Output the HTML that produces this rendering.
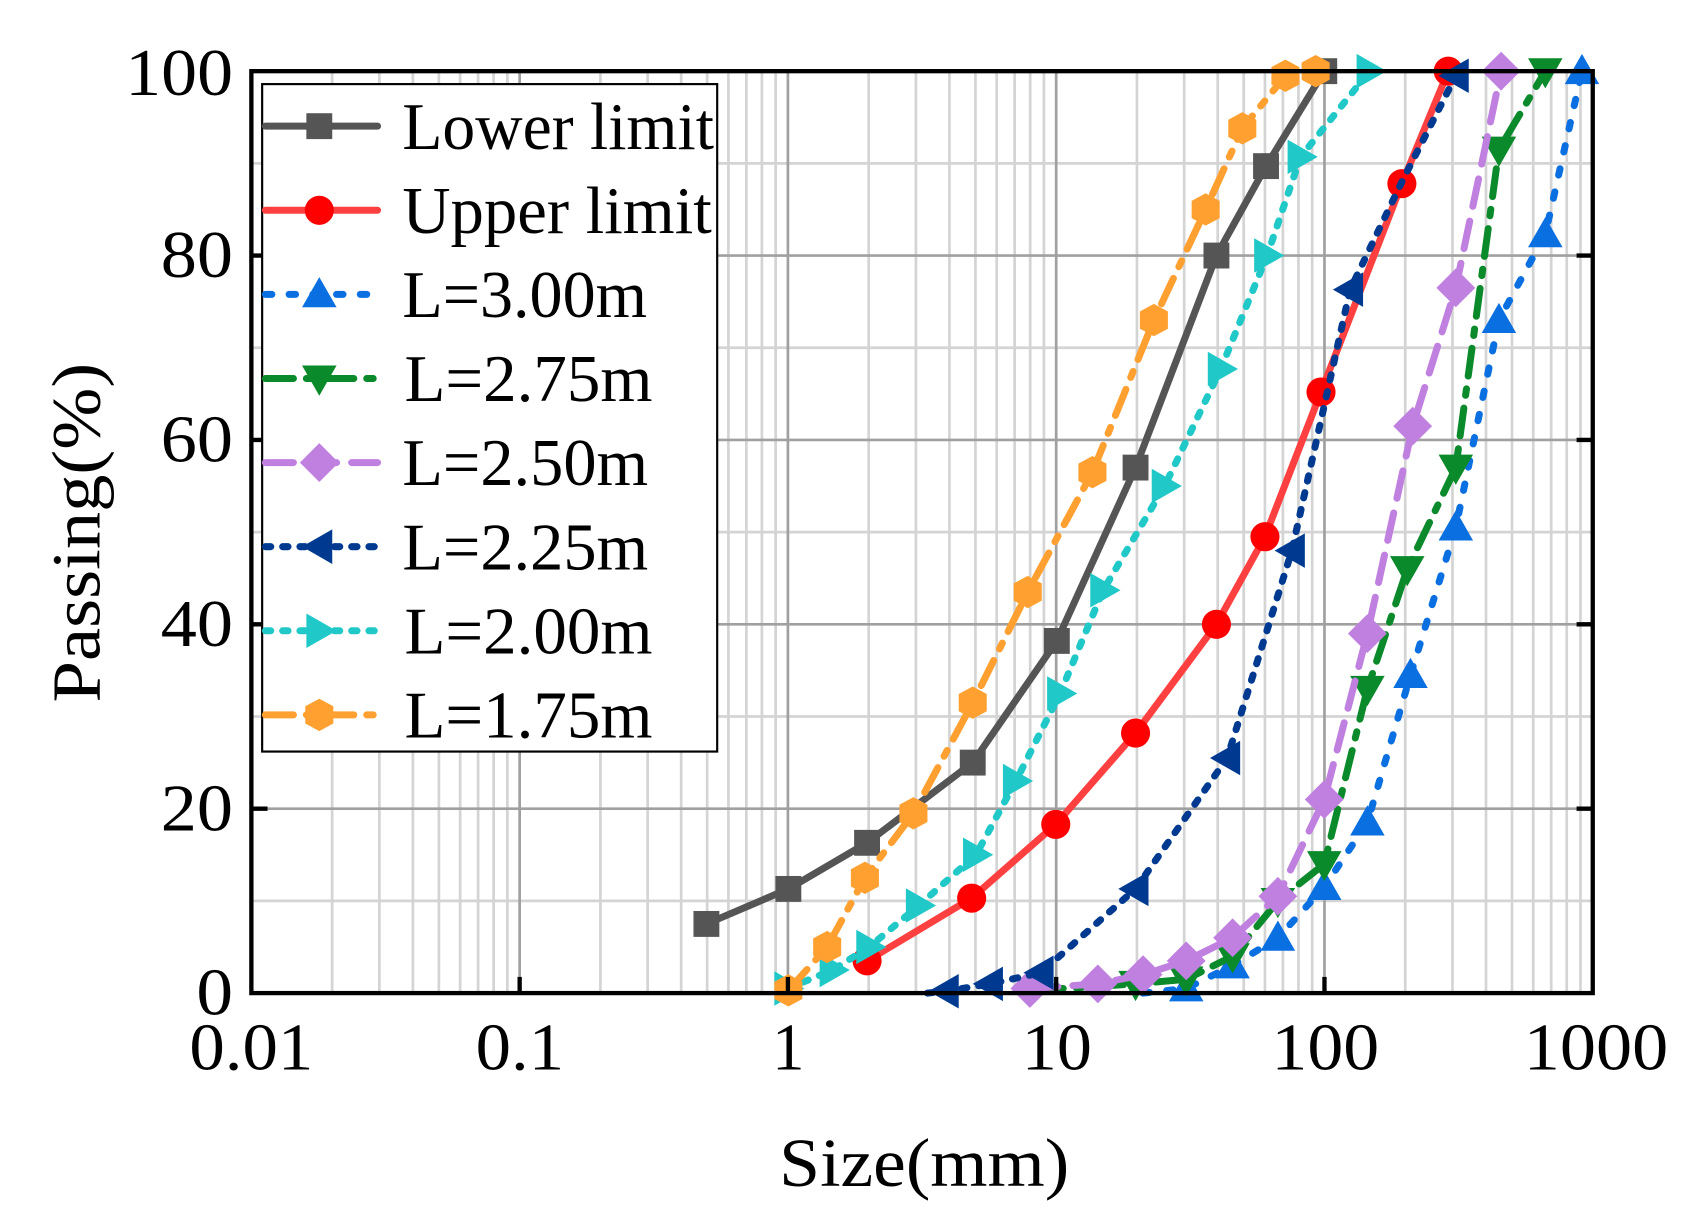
<!DOCTYPE html>
<html><head><meta charset="utf-8"><style>html,body{margin:0;padding:0;background:#fff}svg{display:block}</style></head>
<body>
<svg id="s" width="1691" height="1226" viewBox="0 0 1568 1137" xmlns="http://www.w3.org/2000/svg" font-family="Liberation Serif, serif">
<rect width="1568" height="1137" fill="#fff"/>
<g id="grid"></g>
<g id="series"></g>
<rect x="233" y="66" width="1244" height="855" fill="none" stroke="#000" stroke-width="4"/>
<g id="ticks"></g>
<g font-size="62" text-anchor="end" fill="#000" lengthAdjust="spacingAndGlyphs">
<text x="216" y="941" textLength="34" lengthAdjust="spacingAndGlyphs">0</text>
<text x="216" y="770" textLength="67" lengthAdjust="spacingAndGlyphs">20</text>
<text x="216" y="599" textLength="67" lengthAdjust="spacingAndGlyphs">40</text>
<text x="216" y="428" textLength="67" lengthAdjust="spacingAndGlyphs">60</text>
<text x="216" y="257" textLength="67" lengthAdjust="spacingAndGlyphs">80</text>
<text x="216" y="88" textLength="100" lengthAdjust="spacingAndGlyphs">100</text>
</g>
<g font-size="62" text-anchor="middle" fill="#000">
<text x="233" y="992" textLength="115" lengthAdjust="spacingAndGlyphs">0.01</text>
<text x="482" y="992" textLength="82" lengthAdjust="spacingAndGlyphs">0.1</text>
<text x="731" y="992" textLength="30" lengthAdjust="spacingAndGlyphs">1</text>
<text x="980" y="992" textLength="65" lengthAdjust="spacingAndGlyphs">10</text>
<text x="1229" y="992" textLength="100" lengthAdjust="spacingAndGlyphs">100</text>
<text x="1480" y="992" textLength="134" lengthAdjust="spacingAndGlyphs">1000</text>
</g>
<text x="857" y="1100" font-size="64" text-anchor="middle" textLength="269" lengthAdjust="spacingAndGlyphs">Size(mm)</text>
<text transform="translate(92,494) rotate(-90)" font-size="64" text-anchor="middle" textLength="315" lengthAdjust="spacingAndGlyphs">Passing(%)</text>
<rect x="243" y="78" width="422" height="619" fill="#fff" stroke="#000" stroke-width="2"/>
<g id="legend"></g>
<g font-size="62" fill="#000">
<text x="373" y="138" textLength="289" lengthAdjust="spacingAndGlyphs">Lower limit</text>
<text x="373" y="216" textLength="287" lengthAdjust="spacingAndGlyphs">Upper limit</text>
<text x="373" y="294" textLength="227" lengthAdjust="spacingAndGlyphs">L=3.00m</text>
<text x="375" y="372" textLength="230" lengthAdjust="spacingAndGlyphs">L=2.75m</text>
<text x="373" y="450" textLength="228" lengthAdjust="spacingAndGlyphs">L=2.50m</text>
<text x="373" y="528" textLength="228" lengthAdjust="spacingAndGlyphs">L=2.25m</text>
<text x="375" y="606" textLength="230" lengthAdjust="spacingAndGlyphs">L=2.00m</text>
<text x="375" y="684" textLength="230" lengthAdjust="spacingAndGlyphs">L=1.75m</text>
</g>
</svg>
<script>
const NS="http://www.w3.org/2000/svg";
function el(p,t,a){const e=document.createElementNS(NS,t);for(const k in a)e.setAttribute(k,a[k]);p.appendChild(e);return e;}
const X0=233,DW=248.8,Y0=921,SY=8.55;
const g=document.getElementById('grid');
for(let d=0;d<5;d++)for(let m=2;m<10;m++){const x=X0+DW*(d+Math.log10(m));el(g,'line',{x1:x,x2:x,y1:66,y2:921,stroke:'#d4d4d4','stroke-width':2.5});}
for(let p=10;p<100;p+=20){const y=Y0-SY*p;el(g,'line',{x1:233,x2:1477,y1:y,y2:y,stroke:'#d4d4d4','stroke-width':2.5});}
for(let d=1;d<5;d++){const x=X0+DW*d;el(g,'line',{x1:x,x2:x,y1:66,y2:921,stroke:'#a0a0a0','stroke-width':2.5});}
for(let p=20;p<100;p+=20){const y=Y0-SY*p;el(g,'line',{x1:233,x2:1477,y1:y,y2:y,stroke:'#a0a0a0','stroke-width':2.5});}
const tk=document.getElementById('ticks');
for(let d=1;d<5;d++){const x=X0+DW*d;el(tk,'line',{x1:x,x2:x,y1:921,y2:906,stroke:'#000','stroke-width':4});}
for(let p=20;p<100;p+=20){const y=Y0-SY*p;el(tk,'line',{x1:1477,x2:1462,y1:y,y2:y,stroke:'#000','stroke-width':4});el(tk,'line',{x1:233,x2:248,y1:y,y2:y,stroke:'#000','stroke-width':4});}
function marker(p,type,x,y,c){let pts;
 if(type=='sq')return el(p,'rect',{x:x-12,y:y-12,width:24,height:24,fill:c});
 if(type=='ci')return el(p,'circle',{cx:x,cy:y,r:13.5,fill:c});
 if(type=='up')pts=[[x,y-16],[x+16,y+12],[x-16,y+12]];
 if(type=='dn')pts=[[x,y+16],[x+16,y-12],[x-16,y-12]];
 if(type=='lt')pts=[[x-16,y],[x+12,y-16],[x+12,y+16]];
 if(type=='rt')pts=[[x+16,y],[x-12,y-16],[x-12,y+16]];
 if(type=='di')pts=[[x,y-18],[x+18,y],[x,y+18],[x-18,y]];
 if(type=='hx')pts=[[x,y-15],[x+13,y-8],[x+13,y+8],[x,y+15],[x-13,y+8],[x-13,y-8]];
 el(p,'polygon',{points:pts.map(q=>q.join(',')).join(' '),fill:c});}
const S=[
['#555','sq','none',[[655,7.5],[731,11.3],[804,16.3],[902,25],[980,38.2],[1053,57],[1128,80],[1174,89.7],[1228,100]]],
['#ff4040','ci','none',[[804,3.5],[901,10.3],[979,18.3],[1053,28.2],[1128,40],[1173,49.5],[1225,65.2],[1300,87.8],[1343,100]],'#ff0000'],
['#0a6fe0','up','6 16',[[1060,0],[1100,0.5],[1143,3],[1185,6],[1228,11.5],[1268,18.5],[1308,34.5],[1350,50.5],[1390,73],[1433,82.3],[1467,100]]],
['#0a8a2a','dn','26 12 6 12',[[960,0.3],[1053,1],[1100,1.5],[1143,4],[1185,10],[1228,14],[1268,33],[1305,46],[1350,57],[1390,91.5],[1433,100]]],
['#c080e0','di','26 14',[[955,0.5],[1018,1],[1060,2],[1100,3.5],[1143,6],[1185,10.5],[1228,21],[1268,39],[1310,61.5],[1350,76.5],[1392,100]]],
['#003a90','lt','5 11',[[860,0],[877,0.2],[918,1],[965,2.2],[1053,11.3],[1138,25.5],[1198,48],[1252,76.3],[1300,88],[1350,99.5]]],
['#20c8c8','rt','5 11',[[730,0.5],[772,2.5],[806,5],[852,9.5],[905,15],[942,23],[983,32.5],[1023,43.7],[1080,55],[1132,67.7],[1175,80],[1206,90.7],[1270,100]]],
['#ffa030','hx','26 12 6 12',[[731,0.3],[767,5],[802,12.5],[847,19.5],[902,31.5],[953,43.5],[1013,56.5],[1070,73],[1118,85],[1152,93.8],[1192,99.5],[1220,100]]]
];
const sg=document.getElementById('series'),lg=document.getElementById('legend');
S.forEach((s,i)=>{const [c,m,da,pts,mc]=s;const P=pts.map(p=>[p[0],Y0-SY*p[1]]);
 const a={points:P.map(q=>q.join(',')).join(' '),fill:'none',stroke:c,'stroke-width':6.5,'stroke-linecap':'round','stroke-linejoin':'round'};
 if(da!='none')a['stroke-dasharray']=da;el(sg,'polyline',a);
 P.forEach((q,j)=>{if(!(i==2&&j==0)&&!(i==5&&j==0)&&!(i==5&&j==8)&&!(i==3&&j==0))marker(sg,m,q[0],q[1],mc||c);});
 const y=117+78*i;const la={x1:246,x2:350,y1:y,y2:y,stroke:c,'stroke-width':6.5,'stroke-linecap':'round'};if(da!='none')la['stroke-dasharray']=da;el(lg,'line',la);
 marker(lg,m,296,y,mc||c);});
</script>
</body></html>
